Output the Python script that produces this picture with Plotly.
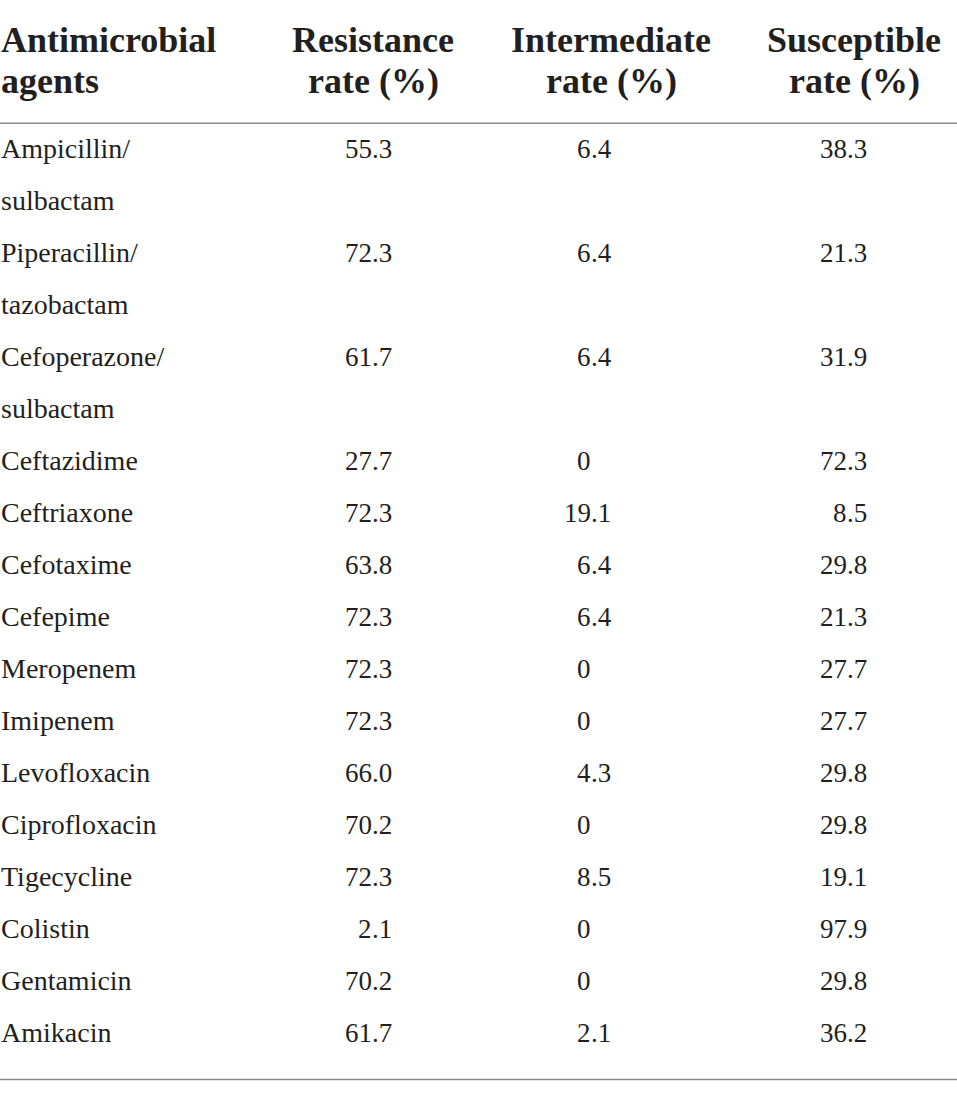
import plotly.graph_objects as go

# Datos de la tabla
agentes = [
    ["Ampicillin/", "sulbactam"],
    ["Piperacillin/", "tazobactam"],
    ["Cefoperazone/", "sulbactam"],
    ["Ceftazidime"],
    ["Ceftriaxone"],
    ["Cefotaxime"],
    ["Cefepime"],
    ["Meropenem"],
    ["Imipenem"],
    ["Levofloxacin"],
    ["Ciprofloxacin"],
    ["Tigecycline"],
    ["Colistin"],
    ["Gentamicin"],
    ["Amikacin"],
]
resistencia = ["55.3", "72.3", "61.7", "27.7", "72.3", "63.8", "72.3", "72.3",
               "72.3", "66.0", "70.2", "72.3", "2.1", "70.2", "61.7"]
intermedio = ["6.4", "6.4", "6.4", "0", "19.1", "6.4", "6.4", "0",
              "0", "4.3", "0", "8.5", "0", "0", "2.1"]
susceptible = ["38.3", "21.3", "31.9", "72.3", "8.5", "29.8", "21.3", "27.7",
               "27.7", "29.8", "29.8", "19.1", "97.9", "29.8", "36.2"]

encabezados = [
    ["Antimicrobial", "agents"],
    ["Resistance", "rate (%)"],
    ["Intermediate", "rate (%)"],
    ["Susceptible", "rate (%)"],
]

# Layout (pixeles)
W, H = 957, 1095
COLOR_TEXTO = "#231f20"
COLOR_LINEA = "#8a8a8a"
FUENTE = "Liberation Serif"
T_CUERPO = 27
T_NOMBRE = 28
T_ENC = 36
x_izq = 1
x_centro_enc = [373, 611, 854]
x_decimal = [372, 591, 847]
y_enc = [40, 81]
y_fila0 = 148.5
paso = 52
y_regla_enc = 123.3
y_regla_fin = 1079.5

fig = go.Figure()
anots = []

# Encabezados
for j, lineas in enumerate(encabezados):
    for k, txt in enumerate(lineas):
        if j == 0:
            xa, xan = x_izq, "left"
        else:
            xa, xan = x_centro_enc[j - 1], "center"
        anots.append(dict(x=xa, y=y_enc[k], text="<b>" + txt + "</b>", xanchor=xan,
                          yanchor="middle", font=dict(size=T_ENC, family=FUENTE, color=COLOR_TEXTO)))

# Filas
linea = 0
for i, nombre in enumerate(agentes):
    y = y_fila0 + paso * linea
    for k, txt in enumerate(nombre):
        anots.append(dict(x=x_izq, y=y + paso * k, text=txt, xanchor="left", yanchor="middle",
                          font=dict(size=T_NOMBRE, family=FUENTE, color=COLOR_TEXTO)))
    # valores alineados por el punto decimal
    for c, col in enumerate([resistencia, intermedio, susceptible]):
        val = col[i]
        ent, _, dec = val.partition(".")
        anots.append(dict(x=x_decimal[c], y=y, text=ent, xanchor="right", yanchor="middle",
                          font=dict(size=T_CUERPO, family=FUENTE, color=COLOR_TEXTO)))
        if dec:
            anots.append(dict(x=x_decimal[c], y=y, text="." + dec, xanchor="left", yanchor="middle",
                              font=dict(size=T_CUERPO, family=FUENTE, color=COLOR_TEXTO)))
    linea += len(nombre)

for a in anots:
    a.update(xref="x", yref="y", showarrow=False, borderpad=0, borderwidth=0)

# Reglas horizontales
for yr in [y_regla_enc, y_regla_fin]:
    fig.add_shape(type="line", xref="paper", yref="y", x0=0, x1=1, y0=yr, y1=yr,
                  line=dict(color=COLOR_LINEA, width=1.5))

fig.update_layout(
    width=W, height=H,
    margin=dict(l=0, r=0, t=0, b=0),
    paper_bgcolor="white", plot_bgcolor="white",
    annotations=anots,
    xaxis=dict(range=[0, W], visible=False, fixedrange=True),
    yaxis=dict(range=[H, 0], visible=False, fixedrange=True),
    showlegend=False,
)

# quitar el margen por defecto del body para que la tabla empiece en (0, 0)
fig.write_html("out.html", config={"displayModeBar": False},
               post_script="document.body.style.margin='0';document.body.style.overflow='hidden';")
